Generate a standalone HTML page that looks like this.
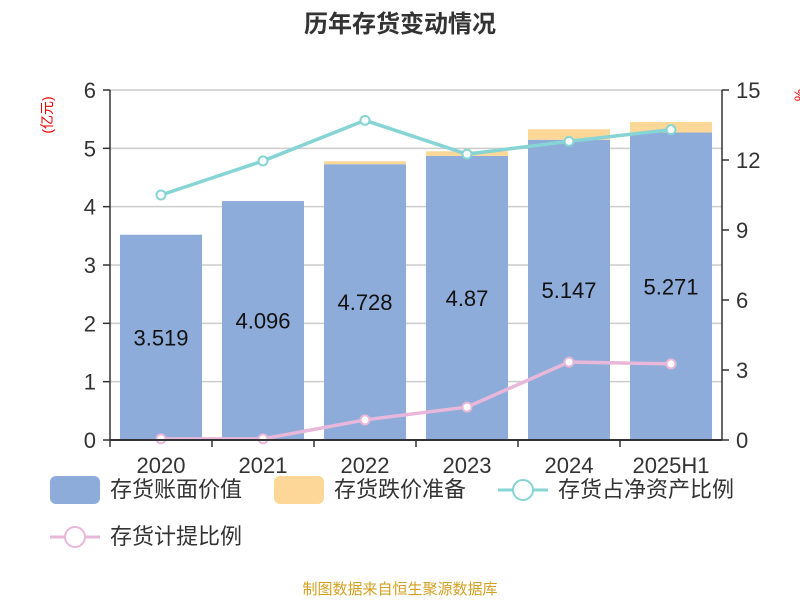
<!DOCTYPE html>
<html><head><meta charset="utf-8"><style>
body{margin:0;background:#fff;}
svg text{font-family:"Liberation Sans","Noto Sans CJK SC",sans-serif;}
</style></head><body>
<svg id="c" width="800" height="600" xmlns="http://www.w3.org/2000/svg">
<text x="400" y="32" text-anchor="middle" font-size="24" font-weight="bold" fill="#333">历年存货变动情况</text>
<text transform="translate(52,115) rotate(-90)" text-anchor="middle" font-size="14" fill="#e00">(亿元)</text>
<text transform="translate(804,95) rotate(-90)" text-anchor="middle" font-size="14" fill="#e00">%</text>
<g id="grid"></g><g id="bars"></g><g id="lines"></g><g id="axes"></g>
<g>
<rect x="50" y="476" width="50" height="28" rx="6" fill="#8eacd9"/>
<text x="110" y="497" font-size="22" fill="#333">存货账面价值</text>
<rect x="274" y="476" width="50" height="28" rx="6" fill="#fdd797"/>
<text x="334" y="497" font-size="22" fill="#333">存货跌价准备</text>
<line x1="498" y1="490" x2="548" y2="490" stroke="#86d4d4" stroke-width="3"/>
<circle cx="523" cy="490" r="10" fill="#fff" stroke="#86d4d4" stroke-width="2"/>
<text x="558" y="497" font-size="22" fill="#333">存货占净资产比例</text>
<line x1="50" y1="537" x2="100" y2="537" stroke="#e8b7d9" stroke-width="3"/>
<circle cx="75" cy="537" r="10" fill="#fff" stroke="#e8b7d9" stroke-width="2"/>
<text x="110" y="544" font-size="22" fill="#333">存货计提比例</text>
</g>
<text x="400" y="594" text-anchor="middle" font-size="15" fill="#d4a020">制图数据来自恒生聚源数据库</text>
</svg>
<script>
const categories=["2020","2021","2022","2023","2024","2025H1"];
const bookValue=[3.519,4.096,4.728,4.87,5.147,5.271];
const provision=[0.0,0.0,0.05,0.08,0.18,0.18];
const netAssetRatio=[10.5,11.96,13.7,12.25,12.8,13.3];
const provisionRatio=[0.05,0.05,0.86,1.41,3.34,3.26];
const leftTicks=[0,1,2,3,4,5,6];
const rightTicks=[0,3,6,9,12,15];
const NS="http://www.w3.org/2000/svg";
const X0=110,X1=722,Y0=440,Y1=90;
const bw=(X1-X0)/categories.length;
const xc=i=>X0+bw*(i+0.5);
const yl=v=>Y0-(v/6)*(Y0-Y1);
const yr=v=>Y0-(v/15)*(Y0-Y1);
function mk(p,t,a){const e=document.createElementNS(NS,t);for(const k in a)e.setAttribute(k,a[k]);document.getElementById(p).appendChild(e);return e;}
leftTicks.forEach(t=>{
 if(t>0){const g=mk('grid','line',{x1:X0,x2:X1,y1:yl(t),y2:yl(t),stroke:'#ccc','stroke-width':1.5});
 
 }
 const l=mk('axes','line',{x1:X0-7,x2:X0,y1:yl(t),y2:yl(t),stroke:'#333','stroke-width':1.5});
 const tx=mk('axes','text',{x:X0-14,y:yl(t)+8,'text-anchor':'end','font-size':22,fill:'#333'});tx.textContent=t;
 
 
});
rightTicks.forEach(t=>{
 mk('axes','line',{x1:X1,x2:X1+7,y1:yr(t),y2:yr(t),stroke:'#333','stroke-width':1.5});
 const tx=mk('axes','text',{x:X1+14,y:yr(t)+8,'font-size':22,fill:'#333'});tx.textContent=t;
 
 
});
mk('axes','line',{x1:X0,x2:X0,y1:Y1,y2:Y0,stroke:'#333','stroke-width':1.5});
mk('axes','line',{x1:X1,x2:X1,y1:Y1,y2:Y0,stroke:'#333','stroke-width':1.5});
mk('axes','line',{x1:X0,x2:X1,y1:Y0,y2:Y0,stroke:'#333','stroke-width':2});
categories.forEach((c,i)=>{
 mk('axes','line',{x1:X0+bw*i,x2:X0+bw*i,y1:Y0,y2:Y0+7,stroke:'#333','stroke-width':1.5});
 const tx=mk('axes','text',{x:xc(i),y:Y0+33,'text-anchor':'middle','font-size':22,fill:'#333'});tx.textContent=c;
 
 
 const w=82;
 const b=mk('bars','rect',{x:xc(i)-w/2,y:yl(bookValue[i]),width:w,height:Y0-yl(bookValue[i]),fill:'#8eacd9'});
 
 
 const p=mk('bars','rect',{x:xc(i)-w/2,y:yl(bookValue[i]+provision[i]),width:w,height:yl(bookValue[i])-yl(bookValue[i]+provision[i]),fill:'#fdd797'});
 
 
 const lb=mk('bars','text',{x:xc(i),y:(yl(bookValue[i])+Y0)/2+8,'text-anchor':'middle','font-size':22,fill:'#111'});lb.textContent=bookValue[i];
 
 
});
function line(vals,col,name){
 const pl=mk('lines','polyline',{points:vals.map((v,i)=>xc(i)+','+yr(v)).join(' '),fill:'none',stroke:col,'stroke-width':3.5});
 
 
 vals.forEach((v,i)=>{const c=mk('lines','circle',{cx:xc(i),cy:yr(v),r:4.5,fill:'#fff',stroke:col,'stroke-width':2});
 
 });
}
line(netAssetRatio,'#86d4d4','net-asset-ratio');
line(provisionRatio,'#e8b7d9','provision-ratio');
</script>
</body></html>
